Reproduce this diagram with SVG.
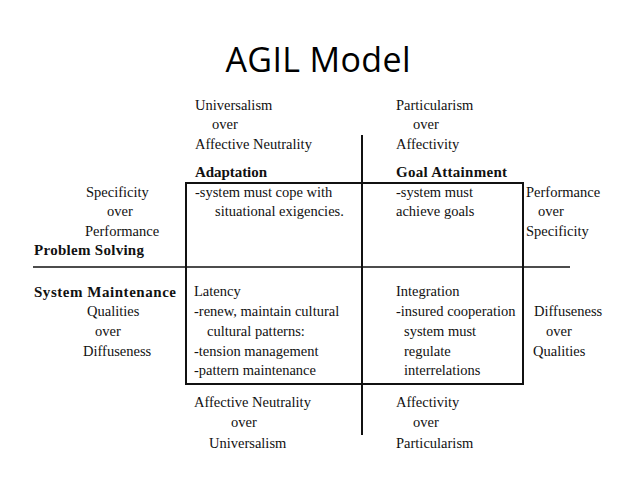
<svg xmlns="http://www.w3.org/2000/svg" width="638" height="479" viewBox="0 0 638 479">
<style>
.t{font-family:"Liberation Serif","Times New Roman",serif;font-size:14.5px;fill:#111}
.b{font-weight:bold;font-size:15px}
.title{font-family:"Open Sans","Liberation Sans",sans-serif;font-size:34px;fill:#000}
.ln{stroke:#111;fill:none}
</style>
<rect width="638" height="479" fill="#fff"/>
<text class="title" x="318" y="72" text-anchor="middle" textLength="185">AGIL Model</text>
<g id="connectors">
<line class="ln" x1="362" y1="135" x2="362" y2="435" stroke-width="2"/>
<line class="ln" x1="33" y1="267" x2="570" y2="267" stroke-width="1.3" stroke="#333"/>
</g>
<g id="box">
<rect class="ln" x="186" y="183" width="337" height="201" stroke-width="2"/>
</g>
<g id="top-left">
<text class="t" x="195" y="110">Universalism</text>
<text class="t" x="212" y="129">over</text>
<text class="t" x="195" y="149">Affective Neutrality</text>
</g>
<g id="top-right">
<text class="t" x="396" y="110">Particularism</text>
<text class="t" x="413" y="129">over</text>
<text class="t" x="396" y="149">Affectivity</text>
</g>
<g id="adaptation">
<text class="t b" x="195" y="177" textLength="72">Adaptation</text>
<text class="t" x="195" y="197">-system must cope with</text>
<text class="t" x="215" y="216">situational exigencies.</text>
</g>
<g id="goal-attainment">
<text class="t b" x="396" y="177" textLength="111">Goal Attainment</text>
<text class="t" x="396" y="197">-system must</text>
<text class="t" x="396" y="216">achieve goals</text>
</g>
<g id="left-upper">
<text class="t" x="86" y="197">Specificity</text>
<text class="t" x="107" y="216">over</text>
<text class="t" x="85" y="236">Performance</text>
<text class="t b" x="34" y="255" textLength="110">Problem Solving</text>
</g>
<g id="right-upper">
<text class="t" x="526" y="197">Performance</text>
<text class="t" x="538" y="216">over</text>
<text class="t" x="526" y="236">Specificity</text>
</g>
<g id="left-lower">
<text class="t b" x="34" y="297" textLength="142">System Maintenance</text>
<text class="t" x="87" y="316">Qualities</text>
<text class="t" x="95" y="336">over</text>
<text class="t" x="83" y="356">Diffuseness</text>
</g>
<g id="latency">
<text class="t" x="194" y="296">Latency</text>
<text class="t" x="194" y="316">-renew, maintain cultural</text>
<text class="t" x="207" y="336">cultural patterns:</text>
<text class="t" x="194" y="356">-tension management</text>
<text class="t" x="194" y="375">-pattern maintenance</text>
</g>
<g id="integration">
<text class="t" x="396" y="296">Integration</text>
<text class="t" x="396" y="316">-insured cooperation</text>
<text class="t" x="404" y="336">system must</text>
<text class="t" x="404" y="356">regulate</text>
<text class="t" x="404" y="375">interrelations</text>
</g>
<g id="right-lower">
<text class="t" x="534" y="316">Diffuseness</text>
<text class="t" x="546" y="336">over</text>
<text class="t" x="533" y="356">Qualities</text>
</g>
<g id="bottom-left">
<text class="t" x="194" y="407">Affective Neutrality</text>
<text class="t" x="231" y="427">over</text>
<text class="t" x="209" y="448">Universalism</text>
</g>
<g id="bottom-right">
<text class="t" x="396" y="407">Affectivity</text>
<text class="t" x="413" y="427">over</text>
<text class="t" x="396" y="448">Particularism</text>
</g>
</svg>
